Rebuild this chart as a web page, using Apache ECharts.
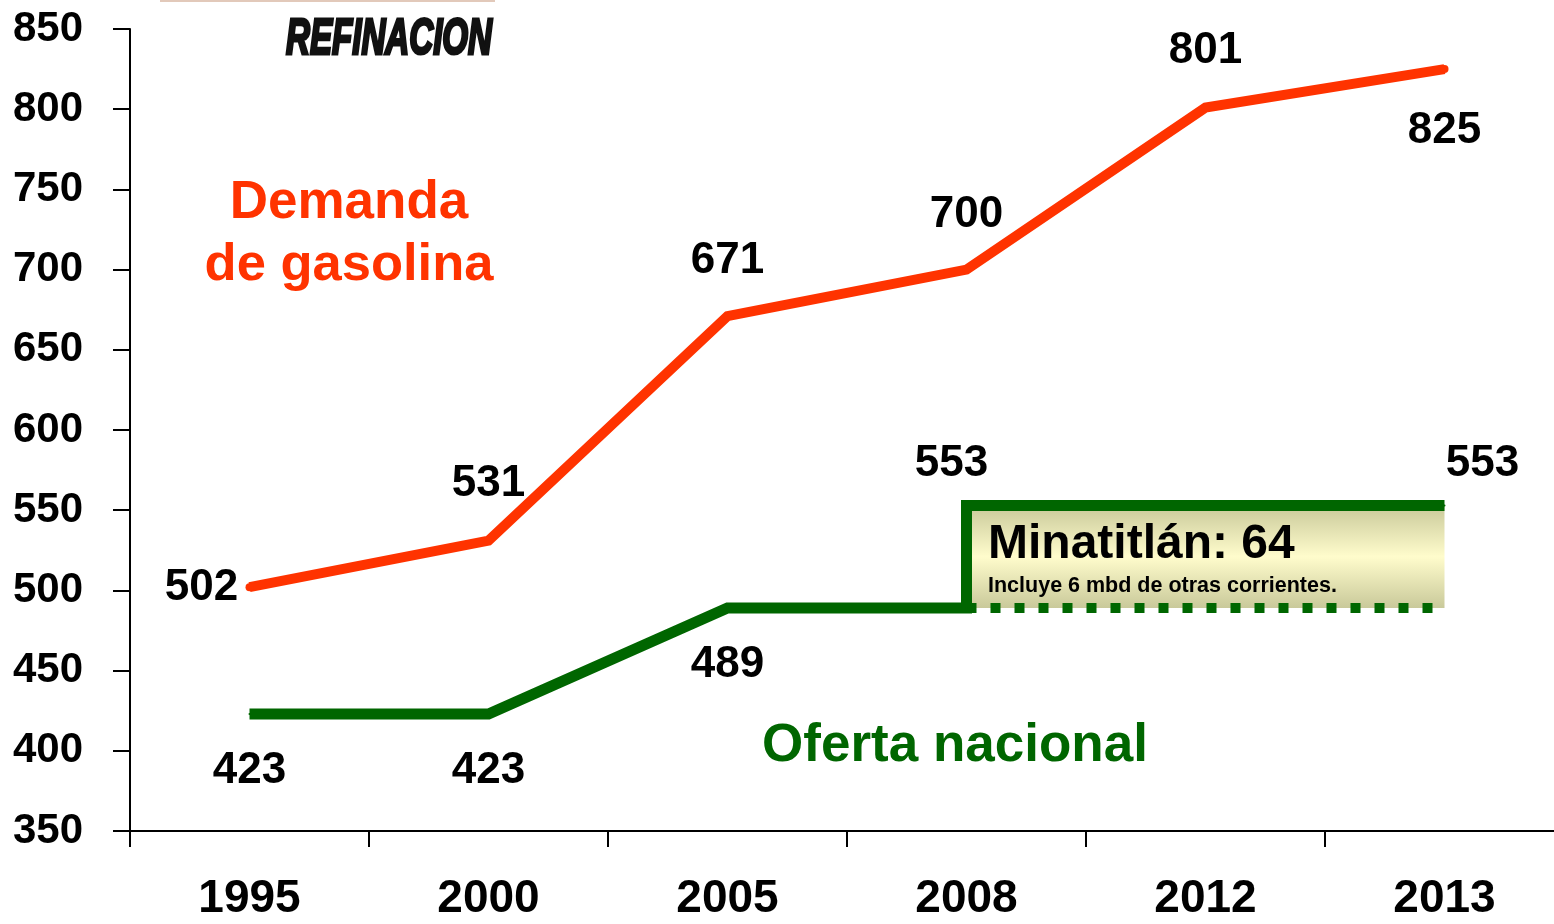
<!DOCTYPE html>
<html>
<head>
<meta charset="utf-8">
<script src="https://cdn.jsdelivr.net/npm/echarts@6/dist/echarts.min.js"></script>
<style>
html,body{margin:0;padding:0;background:#fff;overflow:hidden;width:1554px;height:924px;}
#c{width:1564px;height:924px;}
</style>
</head>
<body>
<div id="c"></div>
<script>
// ---- data ----
var years = ['1995', '2000', '2005', '2008', '2012', '2013'];
var demanda = [502, 531, 671, 700, 801, 825];
// oferta nacional path (category, value), step at 2008 with Minatitlán
var ofertaCats = ['1995', '2000', '2005', '2008', '2008', '2013'];
var ofertaVals = [423, 423, 489, 489, 553, 553];
var ofertaLabelVals = ['423', '423', '489', '', '553', '553'];
var baseCats = ['2008', '2013'];
var baseVals = [489, 489];
var yTicks = {min: 350, max: 850, interval: 50};

// ---- label placement (style, not data) ----
var demandaOffsets = [[-48, 1], [0, -57], [0, -55], [0, -55], [0, -57], [0, 62]];
var ofertaOffsets = [[0, 57], [0, 57], [0, 57], null, [-15, -42], [38, -42]];

var FONT = "'Liberation Sans', Arial, sans-serif";
var RED = '#ff3300';
var GREEN = '#006600';

var demandaData = demanda.map(function (v, i) {
  return {
    value: v,
    label: {show: true, position: 'inside', offset: demandaOffsets[i]}
  };
});
var ofertaData = ofertaVals.map(function (v, i) {
  var o = {value: [ofertaCats[i], v]};
  if (ofertaOffsets[i]) {
    o.label = {show: true, position: 'inside', offset: ofertaOffsets[i], formatter: ofertaLabelVals[i]};
  }
  return o;
});
var baseData = baseVals.map(function (v, i) { return [baseCats[i], v]; });

var numLabel = {show: false, color: '#000', fontFamily: FONT, fontWeight: 'bold', fontSize: 44};

var chart = echarts.init(document.getElementById('c'), null, {renderer: 'canvas'});
chart.setOption({
  backgroundColor: '#ffffff',
  animation: false,
  grid: {left: 130, right: 0, top: 29, bottom: 93, containLabel: false},
  xAxis: {
    type: 'category',
    data: years,
    boundaryGap: true,
    axisLine: {show: true, lineStyle: {color: '#000', width: 2}},
    axisTick: {show: true, length: 16, lineStyle: {color: '#000', width: 2}},
    axisLabel: {color: '#000', fontFamily: FONT, fontWeight: 'bold', fontSize: 46, margin: 45},
    splitLine: {show: false}
  },
  yAxis: {
    type: 'value',
    min: yTicks.min, max: yTicks.max, interval: yTicks.interval,
    axisLine: {show: true, lineStyle: {color: '#000', width: 2}},
    axisTick: {show: true, length: 17, lineStyle: {color: '#000', width: 2}},
    axisLabel: {color: '#000', fontFamily: FONT, fontWeight: 'bold', fontSize: 42, margin: 47},
    splitLine: {show: false}
  },
  series: [
    {
      name: 'base',
      type: 'line',
      data: baseData,
      symbol: 'none',
      z: 2,
      lineStyle: {color: GREEN, width: 10, type: [10, 14], cap: 'butt'},
      markArea: {
        silent: true,
        itemStyle: {
          color: {
            type: 'linear', x: 0, y: 0, x2: 0, y2: 1,
            colorStops: [
              {offset: 0, color: '#c9c99a'},
              {offset: 0.5, color: '#fffccc'},
              {offset: 1, color: '#c9c99a'}
            ]
          }
        },
        data: [[{coord: ['2008', 553]}, {coord: ['2013', 489]}]]
      }
    },
    {
      name: 'Oferta nacional',
      type: 'line',
      data: ofertaData,
      symbol: 'circle',
      symbolSize: 2,
      itemStyle: {color: GREEN},
      z: 3,
      lineStyle: {color: GREEN, width: 11, join: 'miter', cap: 'butt'},
      label: numLabel
    },
    {
      name: 'Demanda de gasolina',
      type: 'line',
      data: demandaData,
      symbol: 'circle',
      symbolSize: 8,
      itemStyle: {color: RED},
      z: 4,
      lineStyle: {color: RED, width: 10, join: 'miter', cap: 'butt'},
      label: numLabel
    }
  ],
  graphic: [
    {
      type: 'rect', left: 160, top: 0,
      shape: {width: 335, height: 2},
      style: {fill: '#e2c9ba'}
    },
    {
      type: 'text', x: 389, y: 40, scaleX: 0.69, scaleY: 1.05,
      style: {
        text: 'REFINACION', fill: '#111', fontFamily: FONT, fontStyle: 'italic',
        fontWeight: 'bold', fontSize: 48, textAlign: 'center', textVerticalAlign: 'middle',
        stroke: '#111', lineWidth: 3
      }
    },
    {
      type: 'text', x: 349, y: 203,
      style: {text: 'Demanda', fill: RED, fontFamily: FONT, fontWeight: 'bold', fontSize: 53,
        textAlign: 'center', textVerticalAlign: 'middle'}
    },
    {
      type: 'text', x: 349, y: 266,
      style: {text: 'de gasolina', fill: RED, fontFamily: FONT, fontWeight: 'bold', fontSize: 52.5,
        textAlign: 'center', textVerticalAlign: 'middle'}
    },
    {
      type: 'text', x: 955, y: 746,
      style: {text: 'Oferta nacional', fill: GREEN, fontFamily: FONT, fontWeight: 'bold', fontSize: 53,
        textAlign: 'center', textVerticalAlign: 'middle'}
    },
    {
      type: 'text', x: 988, y: 545, z: 10,
      style: {text: 'Minatitlán: 64', fill: '#000', fontFamily: FONT, fontWeight: 'bold', fontSize: 48,
        textAlign: 'left', textVerticalAlign: 'middle'}
    },
    {
      type: 'text', x: 988, y: 586, z: 10,
      style: {text: 'Incluye 6 mbd de otras corrientes.', fill: '#000', fontFamily: FONT, fontWeight: 'bold', fontSize: 21.5,
        textAlign: 'left', textVerticalAlign: 'middle'}
    }
  ]
});
</script>
</body>
</html>
